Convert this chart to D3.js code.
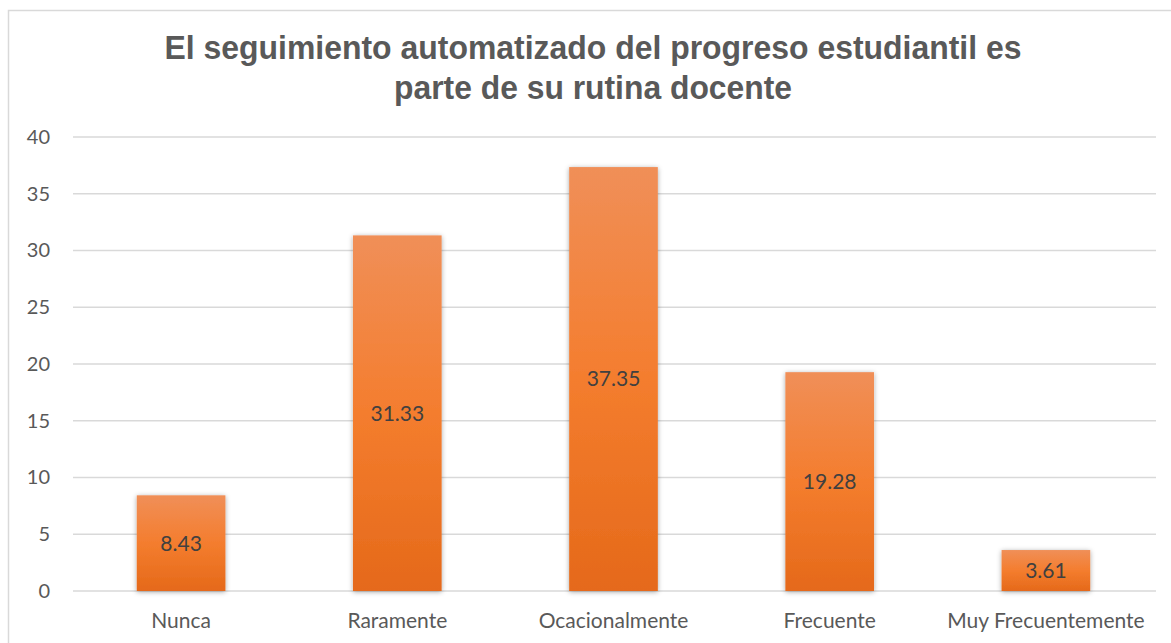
<!DOCTYPE html>
<html>
<head>
<meta charset="utf-8">
<script src="https://cdn.jsdelivr.net/npm/d3@7"></script>
<style>
  body { margin: 0; background: #fff; }
</style>
</head>
<body>
<div class="container"></div>
<script>
// chart data
const categories = ["Nunca", "Raramente", "Ocacionalmente", "Frecuente", "Muy Frecuentemente"];
const values = [8.43, 31.33, 37.35, 19.28, 3.61];
const yTicks = [0, 5, 10, 15, 20, 25, 30, 35, 40];
const titleLines = ["El seguimiento automatizado del progreso estudiantil es", "parte de su rutina docente"];

const width = 1171;
const height = 643;
const margin = { top: 137, bottom: 52, left: 73, right: 15 };

const svg = d3.select(".container")
  .append("svg")
  .attr("width", width)
  .attr("height", height);

// frame of the chart area (left and top edges show in the picture)
svg.append("path")
  .attr("d", `M8.5,${height} V10.5 H${width}`)
  .attr("fill", "none")
  .attr("stroke", "#d9d9d9")
  .attr("stroke-width", 1.5);

const defs = svg.append("defs");

const grad = defs.append("linearGradient")
  .attr("id", "barGrad")
  .attr("x1", 0).attr("y1", 0)
  .attr("x2", 0).attr("y2", 1);
grad.append("stop").attr("offset", "0%").attr("stop-color", "#f08f58");
grad.append("stop").attr("offset", "50%").attr("stop-color", "#f47d2e");
grad.append("stop").attr("offset", "100%").attr("stop-color", "#e5691a");

const shadow = defs.append("filter")
  .attr("id", "barShadow")
  .attr("x", "-20%").attr("y", "-20%")
  .attr("width", "140%").attr("height", "140%");
shadow.append("feDropShadow")
  .attr("dx", 0).attr("dy", 1)
  .attr("stdDeviation", 2.5)
  .attr("flood-color", "#000")
  .attr("flood-opacity", 0.35);

// scales
const x = d3.scaleBand()
  .domain(categories)
  .range([margin.left, width - margin.right - 2])
  .paddingInner(0.59)
  .paddingOuter(0.295);

const y = d3.scaleLinear()
  .domain([0, 40])
  .range([height - margin.bottom, margin.top]);

// gridlines
svg.append("g")
  .selectAll("line")
  .data(yTicks)
  .enter()
  .append("line")
  .attr("x1", margin.left)
  .attr("x2", width - margin.right)
  .attr("y1", d => y(d))
  .attr("y2", d => y(d))
  .attr("stroke", "#d9d9d9")
  .attr("stroke-width", 1.5);

// y axis labels
const yAxis = svg.append("g")
  .attr("transform", `translate(50,0)`)
  .call(d3.axisLeft(y).tickValues(yTicks).tickSize(0).tickPadding(0));
yAxis.select(".domain").remove();
yAxis.selectAll("text")
  .attr("font-family", "Lato, 'Open Sans', sans-serif")
  .attr("font-size", 20)
  .attr("fill", "#595959");

// x axis labels
const xAxis = svg.append("g")
  .attr("transform", `translate(0,${y(0)})`)
  .call(d3.axisBottom(x).tickSize(0).tickPadding(22));
xAxis.select(".domain").remove();
xAxis.selectAll("text")
  .attr("font-family", "Lato, 'Open Sans', sans-serif")
  .attr("font-size", 21)
  .attr("fill", "#595959");

// bars
svg.append("g")
  .selectAll("rect")
  .data(values)
  .enter()
  .append("rect")
  .attr("x", (d, i) => x(categories[i]))
  .attr("y", d => y(d))
  .attr("width", x.bandwidth())
  .attr("height", d => y(0) - y(d))
  .attr("fill", "url(#barGrad)")
  .attr("filter", "url(#barShadow)");

// value labels in the middle of each bar
svg.append("g")
  .selectAll("text")
  .data(values)
  .enter()
  .append("text")
  .attr("x", (d, i) => x(categories[i]) + x.bandwidth() / 2)
  .attr("y", d => (y(d) + y(0)) / 2)
  .attr("dy", "0.35em")
  .attr("text-anchor", "middle")
  .attr("font-family", "Lato, 'Open Sans', sans-serif")
  .attr("font-size", 21)
  .attr("fill", "#404040")
  .text(d => d.toFixed(2));

// title
const titleWidths = [857, 398];
svg.append("g")
  .selectAll("text")
  .data(titleLines)
  .enter()
  .append("text")
  .attr("x", 593)
  .attr("y", (d, i) => 59 + i * 40)
  .attr("text-anchor", "middle")
  .attr("font-family", "'Liberation Sans', Arial, sans-serif")
  .attr("font-weight", "bold")
  .attr("font-size", 34)
  .attr("fill", "#595959")
  .attr("textLength", (d, i) => titleWidths[i])
  .attr("lengthAdjust", "spacingAndGlyphs")
  .text(d => d);
</script>
</body>
</html>
